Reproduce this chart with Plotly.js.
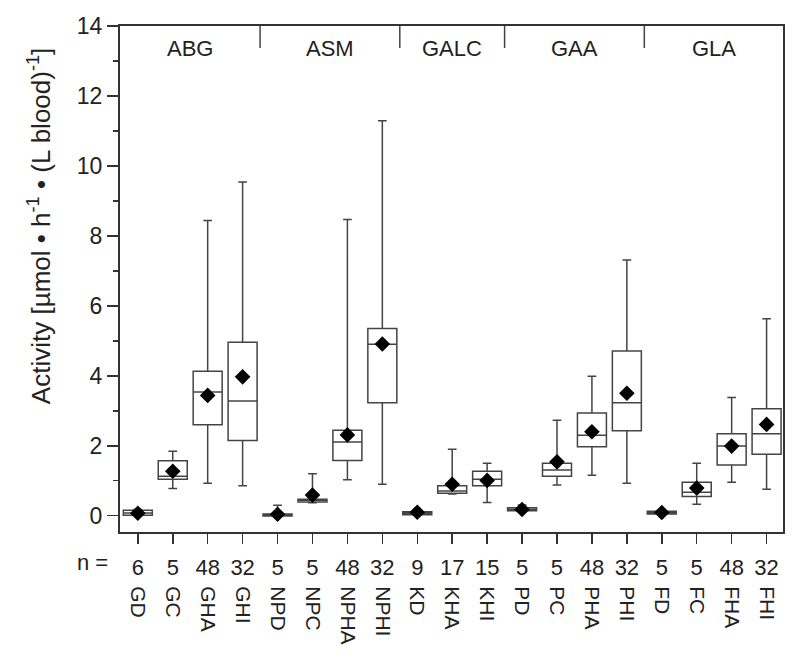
<!DOCTYPE html>
<html>
<head>
<meta charset="utf-8">
<script src="https://cdn.plot.ly/plotly-3.0.1.min.js"></script>
<style>html,body{margin:0;padding:0;background:#fff;}#chart{width:800px;height:663px;}</style>
</head>
<body>
<div id="chart"></div>
<script>
// ---- data ----
const categories = ['GD','GC','GHA','GHI','NPD','NPC','NPHA','NPHI','KD','KHA','KHI','PD','PC','PHA','PHI','FD','FC','FHA','FHI'];
const nValues    = [6,5,48,32,5,5,48,32,9,17,15,5,5,48,32,5,5,48,32];
const minValues  = [0.00,0.78,0.93,0.86,-0.02,0.37,1.03,0.90,0.02,0.62,0.38,0.10,0.88,1.16,0.93,0.04,0.33,0.96,0.76];
const q1Values   = [0.01,1.04,2.60,2.15,-0.01,0.39,1.58,3.23,0.03,0.64,0.86,0.14,1.13,1.97,2.43,0.05,0.55,1.45,1.76];
const medianValues=[0.08,1.13,3.54,3.28,0.01,0.45,2.11,4.90,0.07,0.71,1.04,0.18,1.31,2.30,3.23,0.09,0.67,1.99,2.34];
const q3Values   = [0.16,1.57,4.13,4.96,0.05,0.47,2.44,5.35,0.11,0.86,1.27,0.23,1.50,2.94,4.71,0.13,0.96,2.34,3.06];
const maxValues  = [0.18,1.84,8.44,9.54,0.30,1.20,8.47,11.29,0.13,1.90,1.50,0.31,2.73,3.99,7.31,0.15,1.50,3.38,5.63];
const meanValues = [0.07,1.27,3.44,3.97,0.04,0.59,2.31,4.91,0.10,0.90,1.01,0.18,1.54,2.40,3.50,0.09,0.79,1.99,2.61];
const groupNames = ['ABG','ASM','GALC','GAA','GLA'];
const groupSizes = [4,4,3,4,4];

// ---- build ----
const xs = categories.map((c,i)=>i);
const font = 'Liberation Sans, Arial, Helvetica, sans-serif';
const ink = '#222';

const boxTrace = {
  type:'box', x: xs, q1: q1Values, median: medianValues, q3: q3Values,
  lowerfence: minValues, upperfence: maxValues,
  width: 0.83, whiskerwidth: 0.3,
  line:{color:'#444', width:1.5}, fillcolor:'rgba(255,255,255,0)',
  boxpoints:false, hoverinfo:'skip', showlegend:false
};
const meanTrace = {
  type:'scatter', mode:'markers', x: xs, y: meanValues,
  marker:{symbol:'diamond', size:12, color:'#000'}, showlegend:false, hoverinfo:'skip'
};
const nameTrace = { // invisible trace to activate xaxis2 (category names)
  type:'scatter', mode:'markers', x: xs, y: meanValues, xaxis:'x2', yaxis:'y',
  marker:{opacity:0}, showlegend:false, hoverinfo:'skip'
};

const shapes = [], annotations = [];
let start = 0;
groupNames.forEach((g,gi)=>{
  const end = start + groupSizes[gi] - 1;
  annotations.push({x:(start+end)/2, y:13.35, xref:'x', yref:'y', text:g, showarrow:false,
    font:{family:font, size:22, color:ink}, xanchor:'center', yanchor:'middle'});
  if (gi < groupNames.length-1) {
    shapes.push({type:'line', xref:'x', yref:'y', x0:end+0.5, x1:end+0.5, y0:14, y1:13.37,
      line:{color:'#444', width:1.5}});
  }
  start = end + 1;
});
annotations.push({xref:'paper', yref:'paper', x:-0.015, y:0.145, text:'n =', showarrow:false,
  xanchor:'right', yanchor:'middle', font:{family:font, size:22, color:ink}});
annotations.push({xref:'paper', yref:'paper', x:-0.122, y:0.681, textangle:-90,
  text:'Activity [µmol • h<sup>-1</sup> • (L blood)<sup>-1</sup>]', showarrow:false,
  xanchor:'center', yanchor:'middle', font:{family:font, size:26, color:ink}});

const layout = {
  width:800, height:663,
  margin:{l:120, r:17, t:26, b:10},
  paper_bgcolor:'#fff', plot_bgcolor:'#fff',
  font:{family:font, color:ink},
  xaxis:{range:[-0.51,18.47], tickvals:xs, ticktext:nValues.map(String), ticks:'outside',
    ticklen:10, tickwidth:1.5, tickcolor:'#333', showline:true, linecolor:'#333', linewidth:2,
    mirror:true, showgrid:false, zeroline:false, tickfont:{family:font, size:22, color:ink},
    ticklabelstandoff:4},
  xaxis2:{range:[-0.51,18.47], overlaying:'x', anchor:'free', position:0.108, side:'bottom',
    tickvals:xs, ticktext:categories, tickangle:90, ticks:'', showline:false, showgrid:false,
    zeroline:false, tickfont:{family:font, size:21, color:ink}},
  yaxis:{domain:[0.1925,1], range:[-0.474,14], dtick:2, tick0:0, ticks:'outside', ticklen:11,
    tickwidth:1.5, tickcolor:'#333', showline:true, linecolor:'#333', linewidth:2, mirror:true,
    showgrid:false, zeroline:false, tickfont:{family:font, size:23, color:ink},
    minor:{dtick:1, ticks:'outside', ticklen:5, tickwidth:1.5, tickcolor:'#333'}},
  shapes, annotations
};
Plotly.newPlot('chart', [boxTrace, meanTrace, nameTrace], layout, {displayModeBar:false, staticPlot:true});
</script>
</body>
</html>
